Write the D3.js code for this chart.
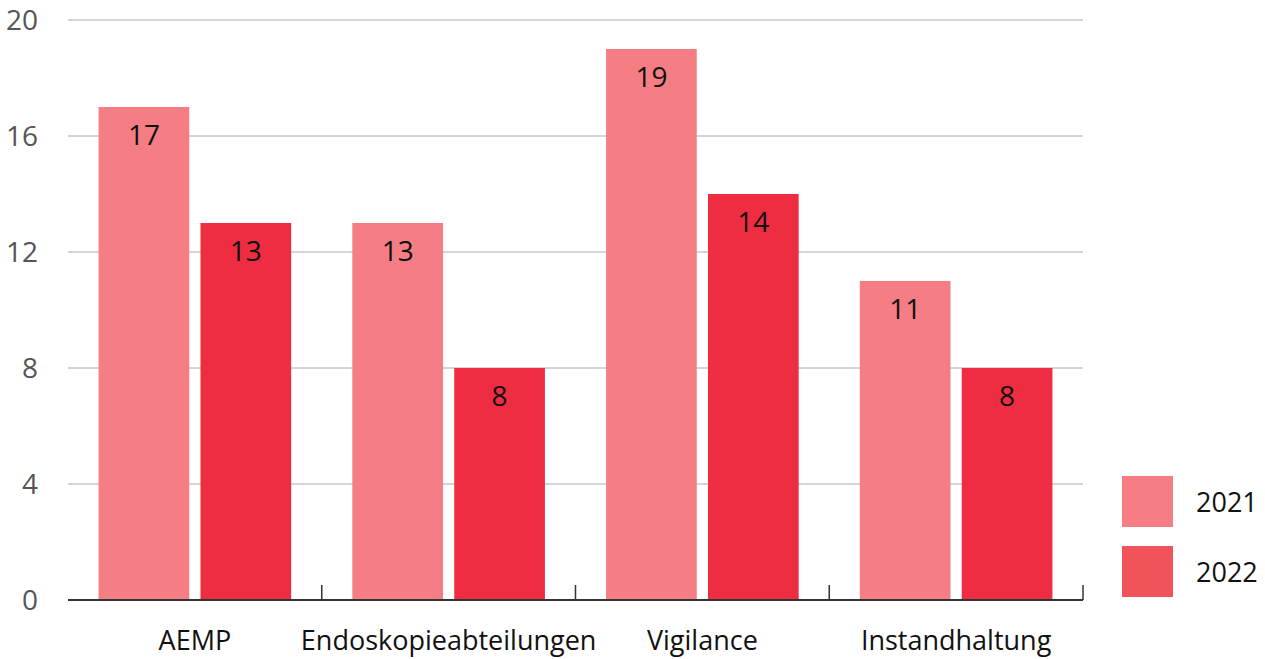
<!DOCTYPE html>
<html>
<head>
<meta charset="utf-8">
<script src="https://cdn.jsdelivr.net/npm/d3@7"></script>
<style>
  body { margin: 0; background: #fff; }
  svg text { font-family: "Open Sans", "Noto Sans", sans-serif; }
</style>
</head>
<body>
<div id="chart"></div>
<script>
const categories = ['AEMP', 'Endoskopieabteilungen', 'Vigilance', 'Instandhaltung'];
const years = ['2021', '2022'];
const values2021 = [17, 13, 19, 11];
const values2022 = [13, 8, 14, 8];
const yTicks = [0, 4, 8, 12, 16, 20];

const width = 1265, height = 659;
const margin = { top: 20, right: 182, bottom: 59, left: 68 };

const barColors = { '2021': '#f47e84', '2022': '#ee2d42' };
const legendColors = { '2021': '#f47e84', '2022': '#f0545a' };

const svg = d3.select('#chart')
  .append('svg')
  .attr('width', width)
  .attr('height', height);

const x = d3.scaleBand()
  .domain(categories)
  .range([margin.left, width - margin.right])
  .paddingInner(0)
  .paddingOuter(0);

const x1 = d3.scaleBand()
  .domain(years)
  .range([0, x.bandwidth()])
  .paddingInner(0.11)
  .paddingOuter(0.3);

const y = d3.scaleLinear()
  .domain([0, 20])
  .range([height - margin.bottom, margin.top]);

// grid lines
svg.append('g')
  .selectAll('line')
  .data(yTicks.filter(d => d > 0))
  .join('line')
  .attr('x1', margin.left)
  .attr('x2', width - margin.right)
  .attr('y1', d => y(d))
  .attr('y2', d => y(d))
  .attr('stroke', '#aaa')
  .attr('stroke-width', 1);

// y labels
svg.append('g')
  .selectAll('text')
  .data(yTicks)
  .join('text')
  .attr('x', 38)
  .attr('y', d => y(d))
  .attr('dy', '0.36em')
  .attr('text-anchor', 'end')
  .style('font-size', '28px')
  .style('fill', '#555')
  .text(d => d);

const series = categories.map((c, i) => ({
  cat: c,
  vals: [
    { year: '2021', v: values2021[i] },
    { year: '2022', v: values2022[i] }
  ]
}));

const groups = svg.append('g')
  .selectAll('g')
  .data(series)
  .join('g')
  .attr('transform', d => `translate(${x(d.cat)},0)`);

groups.selectAll('rect')
  .data(d => d.vals)
  .join('rect')
  .attr('x', d => x1(d.year))
  .attr('width', x1.bandwidth())
  .attr('y', d => y(d.v))
  .attr('height', d => y(0) - y(d.v))
  .attr('fill', d => barColors[d.year]);

groups.selectAll('text')
  .data(d => d.vals)
  .join('text')
  .attr('x', d => x1(d.year) + x1.bandwidth() / 2)
  .attr('y', d => y(d.v) + 38)
  .attr('text-anchor', 'middle')
  .style('font-size', '28px')
  .style('fill', '#111')
  .text(d => d.v);

// x axis
const xAxis = svg.append('g');
xAxis.append('line')
  .attr('x1', margin.left)
  .attr('x2', width - margin.right)
  .attr('y1', y(0))
  .attr('y2', y(0))
  .attr('stroke', '#333')
  .attr('stroke-width', 2);

xAxis.selectAll('.tick')
  .data(categories)
  .join('line')
  .attr('class', 'tick')
  .attr('x1', d => x(d) + x.bandwidth())
  .attr('x2', d => x(d) + x.bandwidth())
  .attr('y1', y(0) - 15)
  .attr('y2', y(0))
  .attr('stroke', '#333')
  .attr('stroke-width', 1.5);

xAxis.selectAll('.label')
  .data(categories)
  .join('text')
  .attr('class', 'label')
  .attr('x', d => x(d) + x.bandwidth() / 2)
  .attr('y', y(0) + 50)
  .attr('text-anchor', 'middle')
  .style('font-size', '27px')
  .style('fill', '#111')
  .text(d => d);

// legend
const legend = svg.append('g')
  .selectAll('g')
  .data(years)
  .join('g')
  .attr('transform', (d, i) => `translate(1122,${476 + i * 70})`);

legend.append('rect')
  .attr('width', 51)
  .attr('height', 51)
  .attr('fill', d => legendColors[d]);

legend.append('text')
  .attr('x', 74)
  .attr('y', 26)
  .attr('dy', '0.36em')
  .style('font-size', '27px')
  .style('fill', '#111')
  .text(d => d);
</script>
</body>
</html>
